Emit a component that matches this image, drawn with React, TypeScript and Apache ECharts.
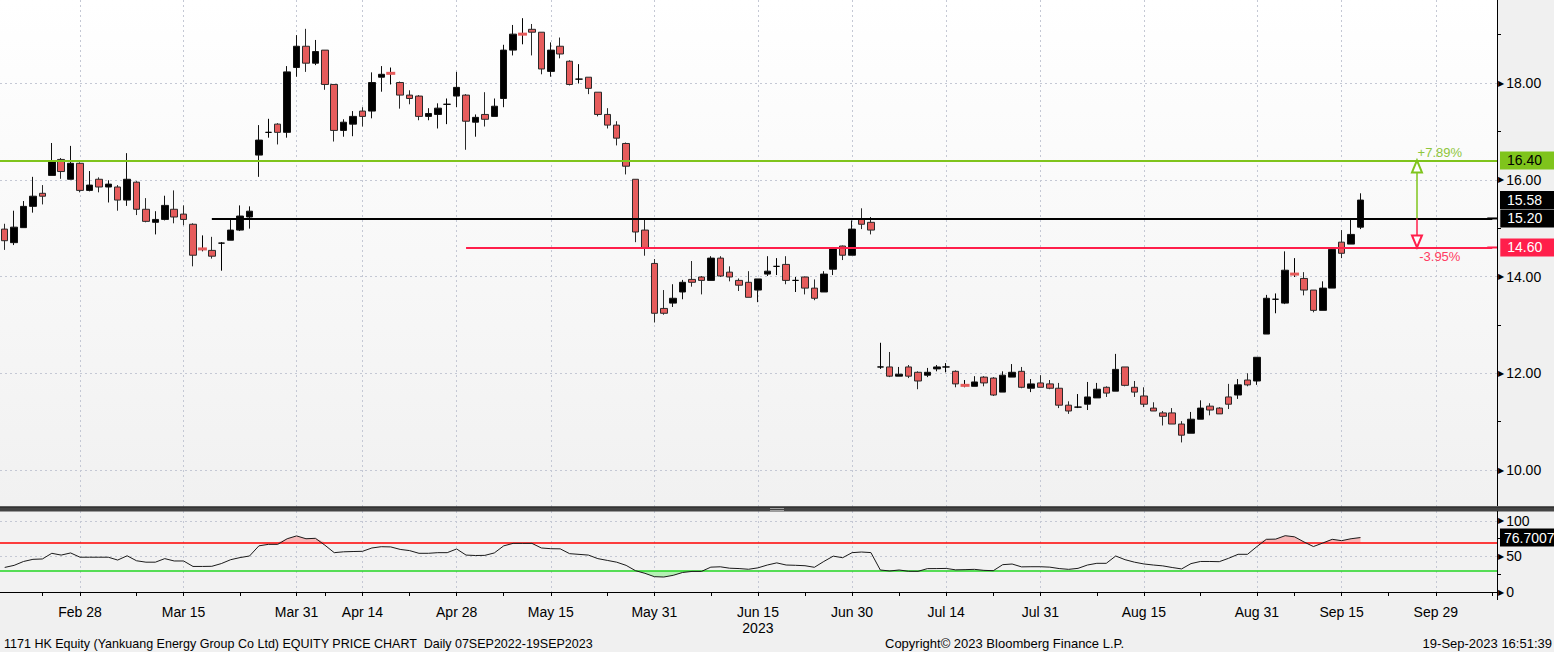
import React, { useEffect, useRef } from "react";
import * as echarts from "echarts";

const FONT = "'Liberation Sans', Arial, sans-serif";

// HK exchange closures inside the window (Bloomberg skips them)
const HOLIDAYS = ["2023-04-05", "2023-04-07", "2023-04-10", "2023-05-01", "2023-05-26", "2023-06-22", "2023-07-17", "2023-09-01", "2023-09-08"];
const FIRST_DAY = "2023-02-16";
const LAST_DAY = "2023-10-09";

const MAJOR_TICKS = ["2023-02-28", "2023-03-15", "2023-03-31", "2023-04-14", "2023-04-28", "2023-05-15", "2023-05-31", "2023-06-15", "2023-06-30", "2023-07-14", "2023-07-31", "2023-08-15", "2023-08-31", "2023-09-15", "2023-09-29"];
const MINOR_TICKS = ["2023-02-22", "2023-03-08", "2023-03-23", "2023-04-06", "2023-04-21", "2023-05-08", "2023-05-23", "2023-06-08", "2023-06-23", "2023-07-07", "2023-07-24", "2023-08-08", "2023-08-23", "2023-09-07", "2023-09-22", "2023-10-09"];
const YEAR_LABEL_AT = "2023-06-15";

const opens = [14.98, 14.70, 15.01, 15.45, 15.72, 16.09, 16.42, 16.01, 16.34, 15.78, 16.01, 15.85, 15.85, 15.58, 15.95, 15.39, 15.12, 15.18, 15.39, 15.29, 15.08, 14.57, 14.54, 14.69, 14.75, 14.96, 15.23, 16.51, 16.98, 17.15, 16.98, 18.32, 18.76, 18.41, 18.68, 17.97, 17.02, 17.15, 17.42, 17.42, 18.12, 18.20, 18.01, 17.75, 17.73, 17.31, 17.35, 17.56, 17.73, 17.75, 17.19, 17.35, 17.31, 17.68, 18.68, 19.01, 19.11, 19.05, 18.24, 18.76, 18.45, 18.08, 18.12, 17.81, 17.35, 17.13, 16.75, 16.01, 14.96, 14.27, 13.34, 13.45, 13.68, 13.94, 13.99, 13.92, 14.38, 14.09, 13.92, 13.88, 13.72, 14.05, 14.21, 14.25, 13.92, 13.99, 13.76, 13.68, 14.15, 14.63, 14.44, 15.18, 15.12, 12.13, 12.13, 11.94, 12.13, 12.02, 11.96, 12.09, 12.13, 12.04, 11.75, 11.73, 11.92, 11.90, 11.61, 11.92, 12.04, 11.69, 11.80, 11.78, 11.69, 11.34, 11.30, 11.36, 11.49, 11.71, 11.63, 12.13, 11.71, 11.53, 11.28, 11.18, 11.18, 10.95, 10.76, 11.05, 11.32, 11.28, 11.51, 11.55, 11.86, 11.84, 12.81, 13.53, 13.45, 14.05, 13.96, 13.72, 13.30, 13.76, 14.71, 14.67, 15.02];
const closes = [14.74, 15.02, 15.45, 15.66, 15.66, 16.38, 16.17, 16.34, 15.78, 15.89, 15.85, 15.91, 15.58, 16.01, 15.39, 15.14, 15.18, 15.47, 15.23, 15.18, 14.44, 14.57, 14.42, 14.69, 14.96, 15.25, 15.35, 16.82, 16.98, 16.98, 18.23, 18.76, 18.41, 18.65, 17.97, 17.02, 17.19, 17.31, 17.31, 18.01, 18.18, 18.20, 17.75, 17.68, 17.31, 17.37, 17.48, 17.56, 17.91, 17.21, 17.29, 17.25, 17.52, 18.68, 19.01, 19.01, 19.05, 18.29, 18.68, 18.60, 17.97, 18.08, 17.89, 17.35, 17.13, 16.86, 16.28, 14.92, 14.58, 13.24, 13.24, 13.55, 13.88, 13.88, 13.92, 14.38, 14.01, 13.99, 13.82, 13.57, 13.95, 14.11, 14.21, 13.92, 13.92, 13.76, 13.55, 14.05, 14.58, 14.44, 14.98, 15.08, 14.96, 12.13, 11.94, 11.98, 11.94, 11.84, 12.02, 12.13, 12.13, 11.78, 11.75, 11.82, 11.80, 11.55, 11.96, 12.02, 11.71, 11.78, 11.71, 11.69, 11.34, 11.22, 11.30, 11.51, 11.67, 11.59, 12.08, 11.75, 11.61, 11.36, 11.22, 11.11, 10.95, 10.72, 11.05, 11.28, 11.24, 11.16, 11.36, 11.76, 11.76, 12.33, 13.55, 13.53, 14.13, 14.05, 13.72, 13.30, 13.76, 14.56, 14.48, 14.87, 15.58];
const lows = [14.55, 14.65, 15.01, 15.32, 15.49, 16.09, 16.02, 16.01, 15.74, 15.76, 15.74, 15.53, 15.36, 15.46, 15.27, 15.12, 14.87, 15.16, 15.10, 15.06, 14.21, 14.52, 14.37, 14.12, 14.75, 14.94, 14.99, 16.06, 16.87, 16.73, 16.87, 18.13, 18.23, 18.37, 17.86, 16.79, 16.89, 16.90, 17.10, 17.27, 17.82, 17.97, 17.47, 17.56, 17.23, 17.23, 17.06, 17.15, 17.50, 16.62, 16.89, 17.10, 17.31, 17.50, 18.57, 18.80, 18.57, 18.18, 18.13, 18.51, 17.95, 17.99, 17.77, 17.31, 17.06, 16.71, 16.11, 14.71, 14.43, 13.05, 13.21, 13.37, 13.53, 13.79, 13.63, 13.92, 13.99, 13.90, 13.70, 13.57, 13.47, 14.01, 14.03, 13.84, 13.68, 13.63, 13.51, 13.68, 14.03, 14.34, 14.44, 14.98, 14.87, 12.09, 11.92, 11.94, 11.90, 11.67, 11.92, 12.04, 12.02, 11.71, 11.71, 11.73, 11.73, 11.53, 11.61, 11.92, 11.69, 11.61, 11.71, 11.67, 11.28, 11.16, 11.28, 11.24, 11.49, 11.51, 11.63, 11.73, 11.51, 11.30, 11.22, 10.92, 10.95, 10.57, 10.76, 11.05, 11.13, 11.16, 11.26, 11.47, 11.73, 11.76, 12.81, 13.24, 13.43, 13.99, 13.61, 13.26, 13.30, 13.76, 14.38, 14.67, 14.98];
const highs = [15.09, 15.36, 15.56, 16.06, 15.89, 16.76, 16.45, 16.70, 16.36, 16.18, 16.05, 15.99, 15.89, 16.55, 15.97, 15.62, 15.35, 15.67, 15.78, 15.47, 15.10, 14.85, 14.82, 14.71, 15.18, 15.47, 15.45, 17.13, 17.26, 17.17, 18.35, 18.99, 19.12, 18.89, 18.68, 17.97, 17.25, 17.42, 17.50, 18.22, 18.35, 18.32, 18.03, 17.85, 17.75, 17.48, 17.58, 17.68, 18.23, 17.77, 17.35, 17.81, 17.68, 18.79, 19.20, 19.34, 19.22, 19.05, 18.84, 18.94, 18.47, 18.39, 18.12, 17.81, 17.48, 17.21, 16.77, 16.01, 15.18, 14.36, 13.72, 13.84, 13.93, 14.32, 14.01, 14.42, 14.42, 14.21, 13.96, 14.11, 13.95, 14.42, 14.38, 14.42, 13.99, 14.00, 13.94, 14.11, 14.61, 14.64, 15.16, 15.41, 15.23, 12.63, 12.44, 12.13, 12.17, 12.04, 12.11, 12.17, 12.21, 12.06, 11.86, 11.94, 11.94, 11.92, 12.04, 12.19, 12.13, 11.88, 11.96, 11.86, 11.80, 11.42, 11.57, 11.82, 11.80, 11.73, 12.40, 12.13, 11.84, 11.71, 11.40, 11.22, 11.28, 11.01, 11.20, 11.44, 11.38, 11.30, 11.78, 11.88, 12.00, 12.33, 13.62, 13.65, 14.52, 14.38, 14.09, 13.72, 13.90, 14.58, 14.96, 15.18, 15.72];
const RED_DOJI = ["2023-03-17", "2023-04-19", "2023-05-10", "2023-07-19", "2023-09-07"];

const rsi = [34.6, 37.5, 43, 46, 46.5, 54.5, 52, 55, 49, 49, 49, 49, 45, 51, 44, 42, 42, 47, 43.7, 43.7, 36, 36, 36.2, 40, 45.5, 48.5, 50.7, 65, 67.1, 67.1, 75, 79, 75, 75.6, 66, 55.4, 56.6, 57, 57.3, 62, 63.8, 63.5, 60, 58.3, 54.5, 54.5, 55.4, 55.4, 60.6, 52, 51.4, 51.6, 55, 65, 68.5, 68.5, 68.5, 62, 61, 60.8, 54, 53, 52, 47, 44.5, 42, 37.5, 30, 26.3, 21.6, 21.1, 23.5, 27.5, 29, 29, 35, 35.5, 33.5, 33, 32, 34, 38, 41, 38, 37.6, 37, 34.8, 43, 50.5, 48.3, 55.4, 56.3, 55.5, 31, 29.6, 31, 29.2, 29.1, 32.9, 33, 33.2, 31.2, 31.5, 31.9, 30.5, 30, 38.5, 39.4, 35.4, 35.6, 35.6, 35, 33, 31.9, 33.3, 38, 40.4, 40.4, 50.7, 45.5, 42, 39.5, 38, 36.8, 34.5, 32.5, 40, 43, 43, 42.7, 47.5, 53.1, 53.1, 64, 74.2, 74.5, 79.3, 77.7, 70.5, 64, 69, 74.2, 72.3, 75, 76.7007];
const RSI_HIGH = 70;
const RSI_LOW = 30;

const RESISTANCE = 16.40;
const PIVOT = 15.20;
const SUPPORT = 14.60;
const PIVOT_FROM = "2023-03-20";
const SUPPORT_FROM = "2023-05-02";
const ARROW_AT = "2023-09-27";
const PCT_AT = "2023-09-29";

const FOOT_LEFT = "1171 HK Equity (Yankuang Energy Group Co Ltd) EQUITY PRICE CHART  Daily 07SEP2022-19SEP2023";
const FOOT_MID = "Copyright\u00a9 2023 Bloomberg Finance L.P.";
const FOOT_RIGHT = "19-Sep-2023 16:51:39";

const MONTHS = ["Jan", "Feb", "Mar", "Apr", "May", "Jun", "Jul", "Aug", "Sep", "Oct", "Nov", "Dec"];

function tradingDays(start: string, end: string): string[] {
  const out: string[] = [];
  const d = new Date(start + "T00:00:00Z");
  const e = new Date(end + "T00:00:00Z");
  while (d.getTime() <= e.getTime()) {
    const wd = d.getUTCDay();
    const s = d.toISOString().slice(0, 10);
    if (wd !== 0 && wd !== 6 && HOLIDAYS.indexOf(s) < 0) out.push(s);
    d.setUTCDate(d.getUTCDate() + 1);
  }
  return out;
}

const GREEN = "#7fc41c";
const GREEN_TXT = "#8fc63c";
const RED = "#ff1f4b";
const RED_TXT = "#ff3b62";
const CANDLE_RED = "#e65c5c";
const CLEAR = "rgba(0,0,0,0)";
const DOT = { color: "#c4c8d4", width: 1, type: [2, 3] as any };

function buildOption() {
  const dates = tradingDays(FIRST_DAY, LAST_DAY);
  const majorSet = new Set(MAJOR_TICKS);
  const tickSet = new Set([...MAJOR_TICKS, ...MINOR_TICKS]);
  const isMajor = (_i: number, v: string) => majorSet.has(v);
  const isTick = (_i: number, v: string) => tickSet.has(v);
  const fmtDate = (s: string) => {
    const t = MONTHS[+s.slice(5, 7) - 1] + " " + +s.slice(8, 10);
    return s === YEAR_LABEL_AT ? t + "\n" + s.slice(0, 4) : t;
  };

  const candles = dates.map((d, i) => {
    if (i >= opens.length) return "-";
    const item: any = { value: [opens[i], closes[i], lows[i], highs[i]] };
    if (opens[i] === closes[i]) item.itemStyle = { borderColor: "#000", borderColor0: "#000", borderColorDoji: "#000" };
    return item;
  });
  const redDojiMarks = RED_DOJI.map((d) => {
    const i = dates.indexOf(d);
    return { coord: [d, opens[i]] };
  });

  const rsiData = dates.map((_, i) => (i < rsi.length ? rsi[i] : "-"));
  const obBase = dates.map((_, i) => (i < rsi.length ? RSI_HIGH : "-"));
  const obTop = dates.map((_, i) => (i < rsi.length ? Math.max(rsi[i] - RSI_HIGH, 0) : "-"));
  const osBase = dates.map((_, i) => (i < rsi.length ? Math.min(rsi[i], RSI_LOW) : "-"));
  const osTop = dates.map((_, i) => (i < rsi.length ? RSI_LOW - Math.min(rsi[i], RSI_LOW) : "-"));

  const lastClose = closes[closes.length - 1];
  const lastRsi = rsi[rsi.length - 1];
  const upPct = (RESISTANCE / PIVOT - 1) * 100;
  const dnPct = (SUPPORT / PIVOT - 1) * 100;

  const tag = (bg: string, fg: string, text: string, distance = 3) => ({
    show: true,
    position: "end",
    distance,
    formatter: text,
    backgroundColor: bg,
    color: fg,
    fontFamily: FONT,
    fontSize: 14,
    lineHeight: 15,
    padding: [2, 20, 1, 7],
  });

  const axisRich = {
    a: { fontSize: 8, color: "#000", padding: [0, 2, 0, 0], fontFamily: "DejaVu Sans" },
    b: { fontSize: 14, color: "#000", fontFamily: FONT },
  };

  // a flat cap that carries a partial level line on to the plot's right edge
  const edgeCap = { symbol: "rect", symbolSize: [2, 10] };
  const arrowHead = { symbol: "emptyTriangle", symbolSize: [10, 12], symbolOffset: [0, 6] };

  return {
    animation: false,
    backgroundColor: "#f0f0f0",
    textStyle: { fontFamily: FONT },
    grid: [
      { left: 0, right: 57, top: 0, height: 566.75 },
      { left: 0, right: 57, top: 511, height: 81 },
    ],
    xAxis: [
      {
        type: "category", gridIndex: 0, data: dates, boundaryGap: true, z: 0,
        axisLine: { show: false }, axisTick: { show: false }, axisLabel: { show: false },
        splitLine: { show: true, interval: isMajor, alignWithLabel: true, lineStyle: DOT },
      },
      {
        type: "category", gridIndex: 1, data: dates, boundaryGap: true, offset: 8, z: 3,
        axisLine: { show: true, lineStyle: { color: "#000", width: 1 } },
        axisTick: { show: true, interval: isTick, alignWithLabel: true, length: 4, lineStyle: { color: "#000" } },
        axisLabel: { interval: isMajor, formatter: fmtDate, color: "#000", fontSize: 14, lineHeight: 16, margin: 4, fontFamily: FONT },
        splitLine: { show: true, interval: isMajor, alignWithLabel: true, lineStyle: DOT },
      },
    ],
    yAxis: [
      {
        type: "value", gridIndex: 0, position: "right", min: 8, max: 19.716, interval: 2, z: 0,
        axisLine: { show: false }, axisTick: { show: false },
        minorTick: { show: true, splitNumber: 2, length: 4, lineStyle: { color: "#000" } },
        axisLabel: {
          margin: 1,
          formatter: (v: number) => (v >= 10 && v <= 18 ? `{a|\u25B6}{b|${v.toFixed(2)}}` : ""),
          rich: axisRich,
        },
        splitLine: { show: true, lineStyle: { color: [CLEAR, DOT.color, DOT.color, DOT.color, DOT.color, DOT.color, CLEAR], type: DOT.type } },
      },
      {
        type: "value", gridIndex: 1, position: "right", min: 0, max: 114.08, interval: 50, z: 3,
        axisLine: { show: false }, axisTick: { show: false },
        minorTick: { show: true, splitNumber: 2, length: 4, lineStyle: { color: "#000" } },
        axisLabel: {
          margin: 1,
          formatter: (v: number) => (v === 0 || v === 50 || v === 100 ? `{a|\u25B6}{b|${v}}` : ""),
          rich: axisRich,
        },
        splitLine: { show: true, lineStyle: { color: [DOT.color, DOT.color, DOT.color, CLEAR], type: DOT.type } },
      },
    ],
    series: [
      {
        type: "candlestick", name: "1171 HK", xAxisIndex: 0, yAxisIndex: 0, data: candles, barWidth: 7, z: 2,
        itemStyle: { color: "#000", color0: CANDLE_RED, borderColor: "#111", borderColor0: "#2a2a2a", borderColorDoji: "#000", borderWidth: 1 },
        markLine: {
          silent: true, animation: false, symbol: ["none", "none"],
          data: [
            { yAxis: RESISTANCE, lineStyle: { color: GREEN, width: 2, type: "solid" }, label: tag(GREEN, "#000", RESISTANCE.toFixed(2)) },
            [
              { coord: [PIVOT_FROM, PIVOT], symbol: "none", lineStyle: { color: "#000", width: 2, type: "solid" }, label: tag("#000", "#fff", PIVOT.toFixed(2), 8) },
              { coord: [LAST_DAY, PIVOT], ...edgeCap },
            ],
            [
              { coord: [SUPPORT_FROM, SUPPORT], symbol: "none", lineStyle: { color: RED, width: 2, type: "solid" }, label: tag(RED, "#fff", SUPPORT.toFixed(2), 8) },
              { coord: [LAST_DAY, SUPPORT], ...edgeCap },
            ],
            { yAxis: lastClose, lineStyle: { color: CLEAR, width: 0 }, label: tag("#000", "#fff", lastClose.toFixed(2)) },
            [
              { coord: [ARROW_AT, PIVOT], symbol: "none", lineStyle: { color: GREEN, width: 1.5, type: "solid" }, label: { show: false } },
              { coord: [ARROW_AT, RESISTANCE], ...arrowHead },
            ],
            [
              { coord: [ARROW_AT, PIVOT], symbol: "none", lineStyle: { color: RED, width: 1.5, type: "solid" }, label: { show: false } },
              { coord: [ARROW_AT, SUPPORT], ...arrowHead },
            ],
          ],
        },
        markPoint: {
          silent: true, animation: false,
          data: [
            { coord: [PCT_AT, RESISTANCE], symbol: "rect", symbolSize: 1, itemStyle: { color: CLEAR }, label: { show: true, position: "top", distance: 1, offset: [4, 0], formatter: `+${upPct.toFixed(2)}%`, color: GREEN_TXT, fontSize: 13, fontFamily: FONT } },
            { coord: [PCT_AT, SUPPORT], symbol: "rect", symbolSize: 1, itemStyle: { color: CLEAR }, label: { show: true, position: "bottom", distance: 2, offset: [4, 0], formatter: `${dnPct.toFixed(2)}%`, color: RED_TXT, fontSize: 13, fontFamily: FONT } },
            ...redDojiMarks.map((m) => ({ ...m, symbol: "rect", symbolSize: [9, 3], itemStyle: { color: CANDLE_RED }, label: { show: false } })),
          ],
        },
      },
      { type: "line", xAxisIndex: 1, yAxisIndex: 1, data: obBase, stack: "ob", symbol: "none", silent: true, lineStyle: { opacity: 0 }, z: 3 },
      { type: "line", xAxisIndex: 1, yAxisIndex: 1, data: obTop, stack: "ob", symbol: "none", silent: true, lineStyle: { opacity: 0 }, areaStyle: { color: "#f7b8b8", opacity: 1 }, z: 3 },
      { type: "line", xAxisIndex: 1, yAxisIndex: 1, data: osBase, stack: "os", symbol: "none", silent: true, lineStyle: { opacity: 0 }, z: 3 },
      { type: "line", xAxisIndex: 1, yAxisIndex: 1, data: osTop, stack: "os", symbol: "none", silent: true, lineStyle: { opacity: 0 }, areaStyle: { color: "#b4f0b4", opacity: 1 }, z: 3 },
      {
        type: "line", name: "RSI", xAxisIndex: 1, yAxisIndex: 1, data: rsiData, symbol: "none", z: 6,
        lineStyle: { color: "#1a1a1a", width: 1 },
        markLine: {
          silent: true, animation: false, symbol: ["none", "none"],
          data: [
            { yAxis: RSI_HIGH, lineStyle: { color: "#ff0000", width: 1.5, type: "solid" }, label: { show: false } },
            { yAxis: RSI_LOW, lineStyle: { color: "#22d622", width: 1.5, type: "solid" }, label: { show: false } },
            { yAxis: lastRsi, lineStyle: { color: CLEAR, width: 0 }, label: { ...tag("#000", "#fff", lastRsi.toFixed(4)), padding: [2, 2, 1, 4] } },
          ],
        },
      },
    ],
    graphic: {
      elements: [
        {
          type: "rect", z: -1, silent: true, shape: { x: 0, y: 0, width: 1497, height: 506 },
          style: { fill: new echarts.graphic.LinearGradient(0, 0, 0, 1, [{ offset: 0, color: "#ffffff" }, { offset: 1, color: "#f1f1f1" }]) },
        },
        { type: "rect", z: 1, silent: true, shape: { x: 0, y: 511, width: 1497, height: 89 }, style: { fill: "#f2f2f2" } },
        { type: "rect", z: 1, silent: true, shape: { x: 1498, y: 506, width: 56, height: 94 }, style: { fill: "#f0f0f0" } },
        { type: "rect", z: 10, silent: true, shape: { x: 0, y: 506.5, width: 1554, height: 5 }, style: { fill: "#444444" } },
        { type: "line", z: 10, silent: true, shape: { x1: 0, y1: 507, x2: 1554, y2: 507 }, style: { stroke: "#222", lineWidth: 1 } },
        { type: "line", z: 11, silent: true, shape: { x1: 770, y1: 508.5, x2: 784, y2: 508.5 }, style: { stroke: "#a0a0a0", lineWidth: 1 } },
        { type: "line", z: 11, silent: true, shape: { x1: 770, y1: 510.5, x2: 784, y2: 510.5 }, style: { stroke: "#a0a0a0", lineWidth: 1 } },
        { type: "line", z: 10, silent: true, shape: { x1: 1497.5, y1: 0, x2: 1497.5, y2: 506 }, style: { stroke: "#000", lineWidth: 1 } },
        { type: "line", z: 10, silent: true, shape: { x1: 1497.5, y1: 511, x2: 1497.5, y2: 600 }, style: { stroke: "#000", lineWidth: 1 } },
        { type: "text", z: 10, silent: true, x: 4, y: 643, scaleX: 0.964, style: { text: FOOT_LEFT, fontSize: 13, fontFamily: FONT, fill: "#000", align: "left", verticalAlign: "middle" } },
        { type: "text", z: 10, silent: true, x: 885, y: 643, style: { text: FOOT_MID, fontSize: 13, fontFamily: FONT, fill: "#000", align: "left", verticalAlign: "middle" } },
        { type: "text", z: 10, silent: true, x: 1552, y: 643, style: { text: FOOT_RIGHT, fontSize: 13, fontFamily: FONT, fill: "#000", align: "right", verticalAlign: "middle" } },
      ],
    },
  };
}

export default function App() {
  const ref = useRef<HTMLDivElement>(null);
  useEffect(() => {
    if (!ref.current) return;
    const chart = echarts.init(ref.current, null, { renderer: "svg" });
    chart.setOption(buildOption() as any);
    return () => chart.dispose();
  }, []);
  return <div ref={ref} style={{ position: "fixed", left: 0, top: 0, width: 1554, height: 652 }} />;
}
